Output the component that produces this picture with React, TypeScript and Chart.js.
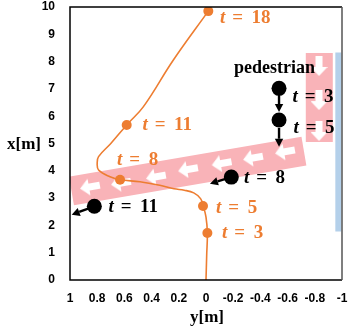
import { useEffect, useRef } from 'react';
import { Chart, registerables } from 'chart.js';
Chart.register(...registerables);

// ---- axes ----
const xTickValues = [1, 0.8, 0.6, 0.4, 0.2, 0, -0.2, -0.4, -0.6, -0.8, -1];
const xTickLabels = ['1', '0.8', '0.6', '0.4', '0.2', '0', '-0.2', '-0.4', '-0.6', '-0.8', '-1'];
const yTickValues = [0, 1, 2, 3, 4, 5, 6, 7, 8, 9, 10];
const yTickLabels = ['0', '1', '2', '3', '4', '5', '6', '7', '8', '9', '10'];
const xTitle = 'y[m]';
const yTitle = 'x[m]';

// ---- vehicle trajectory (orange) ----
const trajX = [0, -0.005, -0.01, 0.0, 0.02, 0.04, 0.09, 0.16, 0.235, 0.34, 0.485, 0.632, 0.706, 0.79, 0.80, 0.79, 0.70, 0.583, 0.46, 0.24, -0.017];
const trajY = [0, 0.9, 1.72, 2.3, 2.71, 2.98, 3.19, 3.29, 3.34, 3.47, 3.6, 3.67, 3.78, 4.03, 4.3, 4.52, 5.0, 5.68, 6.35, 8.06, 9.85];
const carTimes = ['18', '11', '8', '5', '3'];
const carX = [-0.017, 0.583, 0.632, 0.022, -0.01];
const carY = [9.85, 5.68, 3.67, 2.71, 1.72];
const carLabelX = [-0.103, 0.467, 0.654, -0.074, -0.118];
const carLabelY = [9.6, 5.68, 4.38, 2.65, 1.70];

// ---- pedestrian (black) ----
const pedName = 'pedestrian';
const pedNameX = -0.206;
const pedNameY = 7.75;
const pedTimes = ['3', '5', '8', '11'];
const pedX = [-0.537, -0.537, -0.186, 0.821];
const pedY = [7.02, 5.86, 3.77, 2.70];
const pedLabelX = [-0.636, -0.643, -0.279, 0.717];
const pedLabelY = [6.71, 5.56, 3.74, 2.67];
const arrowFromX = [-0.537, -0.537, -0.186, 0.821];
const arrowFromY = [6.78, 5.57, 3.77, 2.70];
const arrowToX = [-0.537, -0.537, -0.029, 0.9875];
const arrowToY = [6.15, 4.88, 3.53, 2.39];

// ---- predicted path band (pink) ----
const bandX = [0.989, -0.72];
const bandY = [3.26, 4.72];
const bandArrowX = [0.853, 0.625, 0.368, 0.132, -0.115, -0.346, -0.581];
const bandArrowY = [3.41, 3.55, 3.78, 4.05, 4.27, 4.47, 4.70];
const vBandX = [-0.833, -0.833];
const vBandY = [8.315, 5.055];
const vArrowX = [-0.831, -0.831, -0.831];
const vArrowY = [7.84, 6.59, 5.46];

// ---- sidewalk edge (blue) ----
const wallX = [-0.973, -0.973];
const wallY = [1.78, 8.33];

const ORANGE = '#ED7D31';
const PINK = '#F9B3B8';
const BLUE = '#B4D0EA';

const pts = (xs: number[], ys: number[]) => xs.map((x, i) => ({ x, y: ys[i] }));

function makeArrowCanvas() {
  const c = document.createElement('canvas');
  c.width = 20;
  c.height = 17;
  const g = c.getContext('2d')!;
  g.fillStyle = '#ffffff';
  g.beginPath();
  g.moveTo(0, 8.5);
  g.lineTo(9, 0);
  g.lineTo(9, 5);
  g.lineTo(20, 5);
  g.lineTo(20, 12);
  g.lineTo(9, 12);
  g.lineTo(9, 17);
  g.closePath();
  g.fill();
  return c;
}

function drawT(ctx: CanvasRenderingContext2D, x: number, y: number, num: string, color: string) {
  ctx.fillStyle = color;
  ctx.textBaseline = 'middle';
  ctx.textAlign = 'left';
  ctx.font = 'italic bold 19px "Liberation Serif"';
  ctx.fillText('t', x, y);
  let cx = x + ctx.measureText('t').width + 7;
  ctx.font = 'bold 19px "Liberation Serif"';
  ctx.fillText('=', cx, y);
  cx += ctx.measureText('=').width + 8.5;
  ctx.fillText(num, cx, y);
}

const overlay = {
  id: 'overlay',
  afterDatasetsDraw(chart: any) {
    const { ctx, chartArea: a, scales } = chart;
    const sx = scales.x;
    const sy = scales.y;
    ctx.save();
    // frame
    ctx.lineWidth = 1.5;
    ctx.strokeStyle = '#000';
    ctx.beginPath();
    ctx.moveTo(a.right, a.top);
    ctx.lineTo(a.left, a.top);
    ctx.lineTo(a.left, a.bottom);
    ctx.lineTo(a.right, a.bottom);
    ctx.stroke();
    ctx.strokeStyle = '#555';
    ctx.beginPath();
    ctx.moveTo(a.right, a.top);
    ctx.lineTo(a.right, a.bottom);
    ctx.stroke();

    // pedestrian arrows
    ctx.strokeStyle = '#000';
    ctx.fillStyle = '#000';
    ctx.lineWidth = 2.4;
    for (let i = 0; i < arrowFromX.length; i++) {
      const x0 = sx.getPixelForValue(arrowFromX[i]);
      const y0 = sy.getPixelForValue(arrowFromY[i]);
      const x1 = sx.getPixelForValue(arrowToX[i]);
      const y1 = sy.getPixelForValue(arrowToY[i]);
      const ang = Math.atan2(y1 - y0, x1 - x0);
      const hl = 8, hw = 4.2;
      const bx = x1 - hl * Math.cos(ang);
      const by = y1 - hl * Math.sin(ang);
      ctx.beginPath();
      ctx.moveTo(x0, y0);
      ctx.lineTo(bx, by);
      ctx.stroke();
      ctx.beginPath();
      ctx.moveTo(x1, y1);
      ctx.lineTo(bx + hw * Math.sin(ang), by - hw * Math.cos(ang));
      ctx.lineTo(bx - hw * Math.sin(ang), by + hw * Math.cos(ang));
      ctx.closePath();
      ctx.fill();
    }

    // labels
    for (let i = 0; i < carTimes.length; i++) {
      drawT(ctx, sx.getPixelForValue(carLabelX[i]), sy.getPixelForValue(carLabelY[i]), carTimes[i], ORANGE);
    }
    for (let i = 0; i < pedTimes.length; i++) {
      drawT(ctx, sx.getPixelForValue(pedLabelX[i]), sy.getPixelForValue(pedLabelY[i]), pedTimes[i], '#000');
    }
    ctx.fillStyle = '#000';
    ctx.font = 'bold 18px "Liberation Serif"';
    ctx.textBaseline = 'middle';
    ctx.textAlign = 'left';
    ctx.fillText(pedName, sx.getPixelForValue(pedNameX), sy.getPixelForValue(pedNameY));

    // axis titles
    ctx.font = 'bold 17px "Liberation Serif"';
    ctx.textAlign = 'left';
    ctx.fillText(yTitle, 7, sy.getPixelForValue(4.95));
    ctx.textAlign = 'center';
    ctx.fillText(xTitle, (a.left + a.right) / 2 + 1, a.bottom + 38);
    ctx.restore();
  },
};

export default function App() {
  const ref = useRef<HTMLCanvasElement | null>(null);
  useEffect(() => {
    document.body.style.margin = '0';
    const arrow = makeArrowCanvas();
    const chart = new Chart(ref.current!, {
      type: 'line',
      data: {
        datasets: [
          { data: pts(bandX, bandY), borderColor: PINK, borderWidth: 29, borderCapStyle: 'butt', pointRadius: 0, order: 20 } as any,
          { data: pts(vBandX, vBandY), borderColor: PINK, borderWidth: 27, borderCapStyle: 'butt', pointRadius: 0, order: 19 } as any,
          { data: pts(wallX, wallY), borderColor: BLUE, borderWidth: 6, borderCapStyle: 'butt', pointRadius: 0, order: 18 } as any,
          { data: pts(bandArrowX, bandArrowY), showLine: false, pointStyle: arrow, pointRadius: 5, pointRotation: -10, order: 15 } as any,
          { data: pts(vArrowX, vArrowY), showLine: false, pointStyle: arrow, pointRadius: 5, pointRotation: -90, order: 14 } as any,
          { data: pts(trajX, trajY), borderColor: ORANGE, borderWidth: 1.6, tension: 0.4, pointRadius: 0, order: 10 } as any,
          { data: pts(carX, carY), showLine: false, pointRadius: 5, pointBackgroundColor: ORANGE, pointBorderWidth: 0, order: 9 } as any,
          { data: pts(pedX, pedY), showLine: false, pointRadius: 7.5, pointBackgroundColor: '#000', pointBorderWidth: 0, order: 8 } as any,
        ],
      },
      options: {
        animation: false,
        responsive: true,
        maintainAspectRatio: false,
        events: [],
        layout: { autoPadding: false, padding: { top: 7, right: 6, left: 0, bottom: 0 } },
        plugins: { legend: { display: false }, tooltip: { enabled: false } },
        scales: {
          x: {
            type: 'linear',
            min: -1,
            max: 1,
            reverse: true,
            grid: { display: false, drawTicks: false },
            border: { display: false },
            afterBuildTicks: (s: any) => { s.ticks = xTickValues.map((v) => ({ value: v })); },
            afterFit: (s: any) => { s.height = 54; s.paddingLeft = 0; s.paddingRight = 0; },
            ticks: {
              padding: 11,
              maxRotation: 0,
              autoSkip: false,
              color: '#000',
              font: { family: '"Liberation Sans"', size: 12, weight: 'bold' },
              callback: (_v: any, i: number) => xTickLabels[i],
            },
          },
          y: {
            type: 'linear',
            min: 0,
            max: 10,
            grid: { display: false, drawTicks: false },
            border: { display: false },
            afterBuildTicks: (s: any) => { s.ticks = yTickValues.map((v) => ({ value: v })); },
            afterFit: (s: any) => { s.width = 70; s.paddingTop = 0; s.paddingBottom = 0; },
            ticks: {
              padding: 15,
              autoSkip: false,
              color: '#000',
              font: { family: '"Liberation Sans"', size: 12, weight: 'bold' },
              callback: (_v: any, i: number) => yTickLabels[i],
            },
          },
        },
      } as any,
      plugins: [overlay],
    });
    return () => chart.destroy();
  }, []);
  return (
    <div style={{ width: 348, height: 334, position: 'relative' }}>
      <canvas ref={ref} />
    </div>
  );
}
